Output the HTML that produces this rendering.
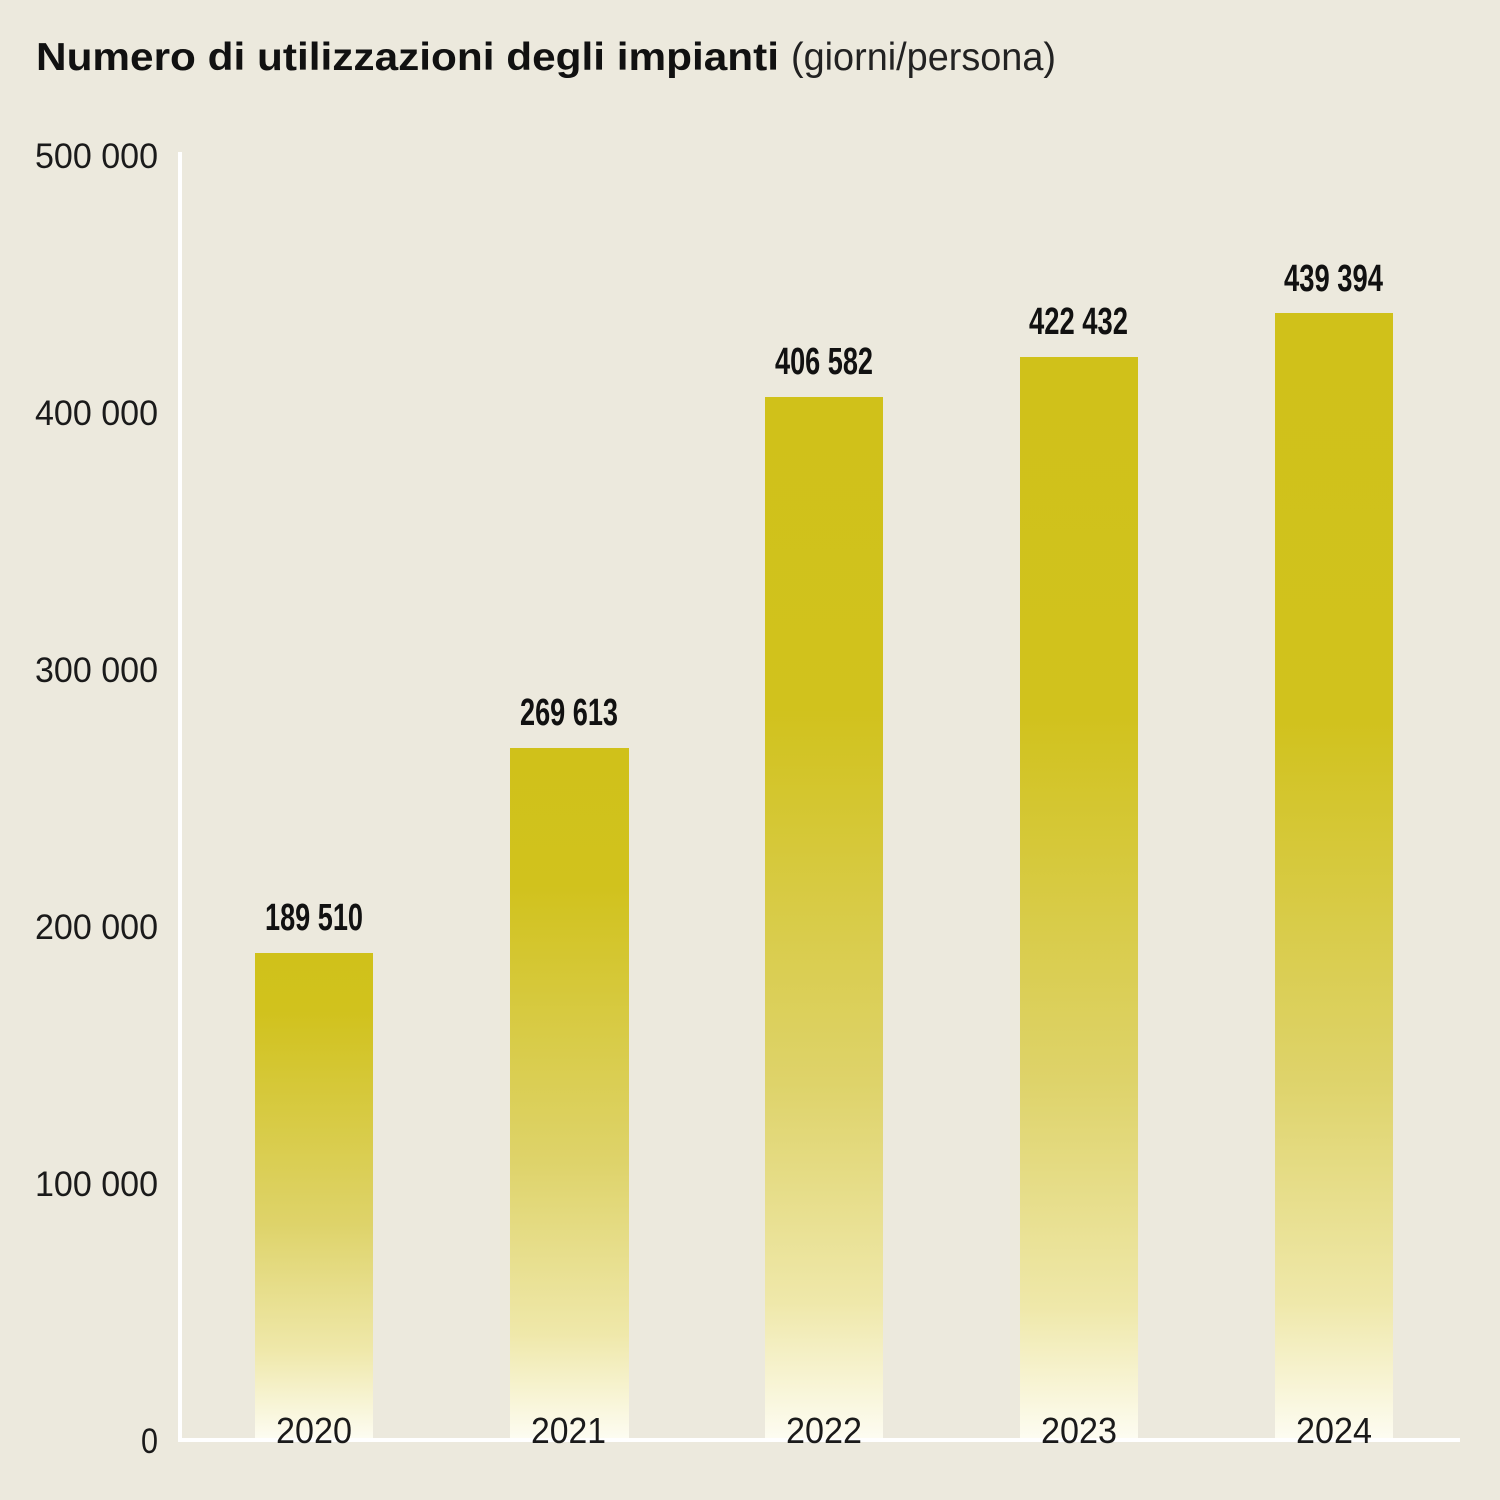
<!DOCTYPE html>
<html>
<head>
<meta charset="utf-8">
<style>
  html, body { margin:0; padding:0; background:#ECE9DD; }
  svg { display:block; }
  text { font-family: "Liberation Sans Narrow", "Liberation Sans", "DejaVu Sans Condensed", sans-serif; }
</style>
</head>
<body>
<svg width="1500" height="1500" viewBox="0 0 1500 1500" xmlns="http://www.w3.org/2000/svg">
  <defs>
    <linearGradient id="g0" x1="0" y1="0" x2="0" y2="1">
      <stop offset="0" stop-color="#D0C11A"/>
      <stop offset="0.12" stop-color="#D1C21D"/>
      <stop offset="0.56" stop-color="#DED36A"/>
      <stop offset="0.82" stop-color="#EFE8AA"/>
      <stop offset="1" stop-color="#FDFCF1"/>
    </linearGradient>
    <linearGradient id="g1" x1="0" y1="0" x2="0" y2="1">
      <stop offset="0" stop-color="#D0C11A"/>
      <stop offset="0.2" stop-color="#D1C21D"/>
      <stop offset="0.6" stop-color="#DED36A"/>
      <stop offset="0.85" stop-color="#EFE8AA"/>
      <stop offset="1" stop-color="#FDFCF1"/>
    </linearGradient>
    <linearGradient id="g2" x1="0" y1="0" x2="0" y2="1">
      <stop offset="0" stop-color="#D0C11A"/>
      <stop offset="0.3" stop-color="#D1C21D"/>
      <stop offset="0.66" stop-color="#DED36A"/>
      <stop offset="0.87" stop-color="#EFE8AA"/>
      <stop offset="1" stop-color="#FDFCF1"/>
    </linearGradient>
    <linearGradient id="g3" x1="0" y1="0" x2="0" y2="1">
      <stop offset="0" stop-color="#D0C11A"/>
      <stop offset="0.33" stop-color="#D1C21D"/>
      <stop offset="0.67" stop-color="#DED36A"/>
      <stop offset="0.88" stop-color="#EFE8AA"/>
      <stop offset="1" stop-color="#FDFCF1"/>
    </linearGradient>
    <linearGradient id="g4" x1="0" y1="0" x2="0" y2="1">
      <stop offset="0" stop-color="#D0C11A"/>
      <stop offset="0.36" stop-color="#D1C21D"/>
      <stop offset="0.68" stop-color="#DED36A"/>
      <stop offset="0.88" stop-color="#EFE8AA"/>
      <stop offset="1" stop-color="#FDFCF1"/>
    </linearGradient>
  </defs>

  <rect x="0" y="0" width="1500" height="1500" fill="#ECE9DD"/>

  <!-- Title -->
  <text x="36" y="70" font-size="39" font-weight="bold" fill="#111" textLength="743" lengthAdjust="spacingAndGlyphs">Numero di utilizzazioni degli impianti</text>
  <text x="791" y="70" font-size="39" fill="#222" textLength="265" lengthAdjust="spacingAndGlyphs">(giorni/persona)</text>

  <!-- Bars -->
  <rect x="255" y="953" width="118" height="485" fill="url(#g0)"/>
  <rect x="510" y="748" width="119" height="690" fill="url(#g1)"/>
  <rect x="765" y="397" width="118" height="1041" fill="url(#g2)"/>
  <rect x="1020" y="357" width="118" height="1081" fill="url(#g3)"/>
  <rect x="1275" y="313" width="118" height="1125" fill="url(#g4)"/>

  <!-- Axes -->
  <rect x="178" y="152" width="4" height="1290" fill="#FFFFFF"/>
  <rect x="178" y="1438" width="1282" height="4" fill="#FFFFFF"/>

  <!-- Y tick labels -->
  <g font-size="35" fill="#1a1a1a" text-anchor="end">
    <text x="158" y="168" textLength="123" lengthAdjust="spacingAndGlyphs">500 000</text>
    <text x="158" y="425" textLength="123" lengthAdjust="spacingAndGlyphs">400 000</text>
    <text x="158" y="682" textLength="123" lengthAdjust="spacingAndGlyphs">300 000</text>
    <text x="158" y="939" textLength="123" lengthAdjust="spacingAndGlyphs">200 000</text>
    <text x="158" y="1196" textLength="123" lengthAdjust="spacingAndGlyphs">100 000</text>
    <text x="158" y="1453" textLength="17" lengthAdjust="spacingAndGlyphs">0</text>
  </g>

  <!-- Value labels -->
  <g font-size="38" font-weight="bold" fill="#111">
    <text x="265" y="930" textLength="98" lengthAdjust="spacingAndGlyphs">189 510</text>
    <text x="520" y="725" textLength="98" lengthAdjust="spacingAndGlyphs">269 613</text>
    <text x="775" y="374" textLength="98" lengthAdjust="spacingAndGlyphs">406 582</text>
    <text x="1029" y="334" textLength="99" lengthAdjust="spacingAndGlyphs">422 432</text>
    <text x="1284" y="291" textLength="99" lengthAdjust="spacingAndGlyphs">439 394</text>
  </g>

  <!-- X labels -->
  <g font-size="36" fill="#1a1a1a">
    <text x="276" y="1443" textLength="76" lengthAdjust="spacingAndGlyphs">2020</text>
    <text x="531" y="1443" textLength="75" lengthAdjust="spacingAndGlyphs">2021</text>
    <text x="786" y="1443" textLength="76" lengthAdjust="spacingAndGlyphs">2022</text>
    <text x="1041" y="1443" textLength="76" lengthAdjust="spacingAndGlyphs">2023</text>
    <text x="1296" y="1443" textLength="76" lengthAdjust="spacingAndGlyphs">2024</text>
  </g>
</svg>
</body>
</html>
